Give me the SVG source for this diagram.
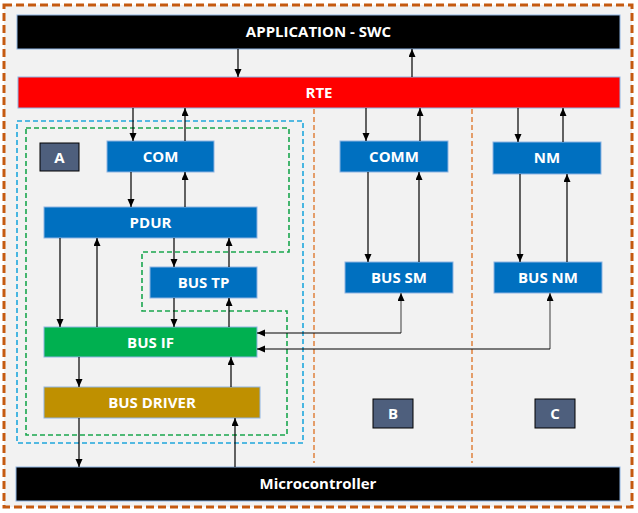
<svg xmlns="http://www.w3.org/2000/svg" width="638" height="513" viewBox="0 0 638 513">
<style>
  .lbl{font-family:"Open Sans","Noto Sans","Liberation Sans",sans-serif;font-weight:bold;font-size:15px;fill:#fff;text-anchor:middle}
  .blue{fill:#0070c0;stroke:#8db3e2;stroke-width:1}
  .tag{fill:#4e5f7d;stroke:#000;stroke-width:1}
  .bar{fill:#000;stroke:#8db3e2;stroke-width:1}
  .ar{stroke:#000;stroke-width:1.2;fill:none;marker-end:url(#ah)}
  .arg{stroke:#7f7f7f;stroke-width:1.6;fill:none;marker-end:url(#ah)}
  .sep{stroke:#e08848;stroke-width:1.6;stroke-dasharray:5 3;fill:none}
</style>
<defs>
  <marker id="ah" markerUnits="userSpaceOnUse" markerWidth="9" markerHeight="8" refX="8" refY="3.5" orient="auto">
    <path d="M0,0 L8,3.5 L0,7 z" fill="#000"/>
  </marker>
</defs>
<rect x="0" y="0" width="638" height="513" fill="#ffffff"/>
<rect x="4" y="5" width="628" height="502" fill="#f2f2f2" stroke="#c55a11" stroke-width="3" stroke-dasharray="8 4"/>

<g id="containers">
  <line class="sep" x1="314" y1="109" x2="314" y2="463"/>
  <line class="sep" x1="472" y1="109" x2="472" y2="463"/>
  <rect x="17" y="121" width="286" height="322" fill="none" stroke="#1fa7dc" stroke-width="1.6" stroke-dasharray="5 3"/>
  <path d="M26,128 H289 V252 H142 V311 H287 V435 H26 Z" fill="none" stroke="#1aa64e" stroke-width="1.6" stroke-dasharray="5 3"/>
</g>

<g id="app"><rect class="bar" x="17" y="15" width="603" height="34"/><text class="lbl" x="318.5" y="37">APPLICATION - SWC</text></g>
<g id="rte"><rect x="18" y="77" width="602" height="31" fill="#ff0000" stroke="#8db3e2" stroke-width="1"/><text class="lbl" x="319" y="98">RTE</text></g>
<g id="micro"><rect class="bar" x="16" y="467" width="604" height="34"/><text class="lbl" x="318" y="489">Microcontroller</text></g>

<g id="tagA"><rect class="tag" x="40" y="143" width="39" height="28"/><text class="lbl" x="59.5" y="162.5">A</text></g>
<g id="tagB"><rect class="tag" x="373" y="399" width="40" height="29"/><text class="lbl" x="393" y="419">B</text></g>
<g id="tagC"><rect class="tag" x="535" y="399" width="40" height="29"/><text class="lbl" x="555" y="419">C</text></g>

<g id="com"><rect class="blue" x="107" y="141" width="107" height="31"/><text class="lbl" x="160.5" y="162">COM</text></g>
<g id="pdur"><rect class="blue" x="44" y="207" width="213" height="31"/><text class="lbl" x="150.5" y="228">PDUR</text></g>
<g id="bustp"><rect class="blue" x="150" y="267" width="107" height="31"/><text class="lbl" x="203.5" y="288">BUS TP</text></g>
<g id="busif"><rect x="44" y="327" width="213" height="30" fill="#00b050" stroke="#8db3e2" stroke-width="1"/><text class="lbl" x="150.5" y="347.5">BUS IF</text></g>
<g id="busdriver"><rect x="44" y="387" width="216" height="31" fill="#bf9000" stroke="#8db3e2" stroke-width="1"/><text class="lbl" x="152" y="408">BUS DRIVER</text></g>

<g id="comm"><rect class="blue" x="340" y="141" width="108" height="31"/><text class="lbl" x="394" y="162">COMM</text></g>
<g id="nm"><rect class="blue" x="493" y="142" width="108" height="32"/><text class="lbl" x="547" y="163">NM</text></g>
<g id="bussm"><rect class="blue" x="345" y="262" width="108" height="31"/><text class="lbl" x="399" y="283">BUS SM</text></g>
<g id="busnm"><rect class="blue" x="494" y="262" width="108" height="31"/><text class="lbl" x="548" y="283">BUS NM</text></g>

<g id="connectors">
  <line class="ar" x1="238" y1="49" x2="238" y2="77"/>
  <line class="ar" x1="412" y1="77" x2="412" y2="49"/>
  <line class="ar" x1="133" y1="108" x2="133" y2="141"/>
  <line class="ar" x1="185" y1="141" x2="185" y2="108"/>
  <line class="ar" x1="131" y1="172" x2="131" y2="207"/>
  <line class="ar" x1="185" y1="207" x2="185" y2="172"/>
  <line class="ar" x1="60" y1="238" x2="60" y2="327"/>
  <line class="ar" x1="97" y1="327" x2="97" y2="238"/>
  <line class="ar" x1="174" y1="238" x2="174" y2="267"/>
  <line class="ar" x1="229" y1="267" x2="229" y2="238"/>
  <line class="ar" x1="174" y1="298" x2="174" y2="327"/>
  <line class="ar" x1="229" y1="327" x2="229" y2="298"/>
  <line class="ar" x1="79" y1="357" x2="79" y2="387"/>
  <line class="ar" x1="231" y1="387" x2="231" y2="357"/>
  <line class="ar" x1="79" y1="418" x2="79" y2="467"/>
  <line class="ar" x1="235" y1="467" x2="235" y2="418"/>
  <line class="ar" x1="366" y1="108" x2="366" y2="141"/>
  <line class="ar" x1="420" y1="141" x2="420" y2="108"/>
  <line class="ar" x1="368" y1="172" x2="368" y2="262"/>
  <line class="ar" x1="419" y1="262" x2="419" y2="172"/>
  <line class="ar" x1="518" y1="108" x2="518" y2="142"/>
  <line class="ar" x1="563" y1="142" x2="563" y2="108"/>
  <line class="ar" x1="520" y1="174" x2="520" y2="262"/>
  <line class="ar" x1="567" y1="262" x2="567" y2="174"/>
  <line class="arg" x1="401" y1="333" x2="401" y2="293"/>
  <line class="ar" x1="401" y1="333" x2="257" y2="333"/>
  <line class="arg" x1="550" y1="349" x2="550" y2="293"/>
  <line class="ar" x1="550" y1="349" x2="257" y2="349"/>
</g>
</svg>
